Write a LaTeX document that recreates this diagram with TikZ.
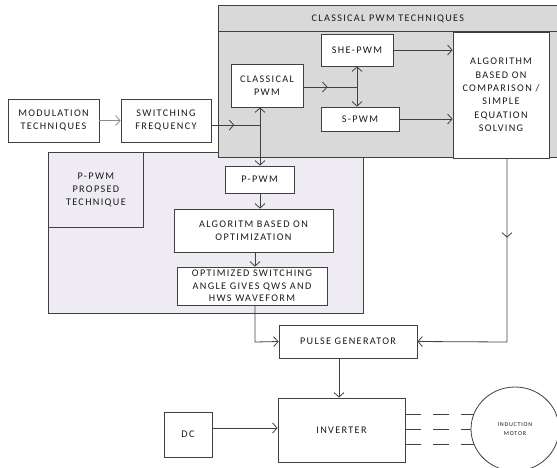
\documentclass[tikz,border=0pt]{standalone}
\usepackage{fontspec}
\setmainfont{Carlito}[LetterSpace=13]
\usetikzlibrary{arrows.meta,decorations.markings,shapes.geometric}
\definecolor{linec}{HTML}{404040}
\definecolor{lightl}{HTML}{8C8C8C}
\definecolor{lav}{HTML}{EEEBF2}
\definecolor{grayf}{HTML}{D9D9D9}
\definecolor{txt}{HTML}{1A1A1A}
\begin{document}
\begin{tikzpicture}[x=1pt,y=-1pt,
  font=\fontsize{10.2}{13.4}\selectfont, text=txt,
  line/.style={draw=linec, line width=0.8pt},
  box/.style={rectangle, draw=linec, line width=0.8pt, fill=white, align=center, inner sep=1pt},
  region/.style={rectangle, draw=linec, line width=0.8pt, anchor=north west, inner sep=0pt},
  tip/.style={-{Straight Barb[length=4.5pt,width=10pt]}},
  midarr/.style={postaction={decorate}, decoration={markings, mark=at position #1 with {\arrow{Straight Barb[length=4.5pt,width=10pt]}}}}
]
\useasboundingbox (0,0) rectangle (557,467);
\clip (0,0) rectangle (557,467);

% P-PWM region
\node[region, fill=lav, minimum width=315, minimum height=161] (preg) at (48,152) {};
\node[region, fill=lav, minimum width=95, minimum height=75, align=center] (ppt) at (48,152) {P-PWM\\PROPSED\\TECHNIQUE};

% Classical region
\node[region, fill=grayf, minimum width=339, minimum height=152] (creg) at (218,5) {};
\node[region, fill=grayf, minimum width=339, minimum height=26] (ctitle) at (218,5) {CLASSICAL PWM TECHNIQUES};

% boxes
\node[box, minimum width=91, minimum height=43] (mod) at (53.5,120.5) {MODULATION\\TECHNIQUES};
\node[box, minimum width=90, minimum height=43] (sw) at (166,120.5) {SWITCHING\\FREQUENCY};
\node[box, minimum width=72, minimum height=43] (cpwm) at (267,85.5) {CLASSICAL\\PWM};
\node[box, minimum width=72, minimum height=32] (she) at (357,50) {SHE-PWM};
\node[box, minimum width=78, minimum height=24] (spwm) at (360,119) {S-PWM};
\node[box, minimum width=96, minimum height=126] (alg) at (501,95) {ALGORITHM\\BASED ON\\COMPARISON /\\SIMPLE\\EQUATION\\SOLVING};
\node[box, minimum width=69, minimum height=27] (ppwm) at (259.5,179.5) {P-PWM};
\node[box, minimum width=159, minimum height=43] (algo) at (253.5,230.5) {ALGORITM BASED ON\\OPTIMIZATION};
\node[box, minimum width=150, minimum height=38, inner sep=0pt, font=\fontsize{10.2}{12.5}\selectfont] (opt) at (252,286) {OPTIMIZED SWITCHING\\ANGLE GIVES QWS AND\\HWS WAVEFORM};
\node[box, minimum width=138, minimum height=33] (pulse) at (348,341.5) {PULSE GENERATOR};
\node[box, minimum width=127, minimum height=64] (inv) at (341.5,430) {INVERTER};
\node[box, minimum width=48, minimum height=45] (dc) at (188,434.5) {DC};
\node[ellipse, draw=linec, line width=0.8pt, fill=white, minimum width=88, minimum height=84, inner sep=0pt, align=center, font=\fontsize{6}{9}\selectfont] (motor) at (515,429) {INDUCTION\\MOTOR};

% junctions
\coordinate (j1) at (260,125);
\coordinate (j2) at (357,87);
\coordinate (rdown) at (507,342);
\coordinate (ldown) at (255,342);

% connectors
\draw[line, draw=lightl, tip] (mod) -- (sw);
\draw[line, midarr=0.47] (sw.east |- j1) -- (j1);
\draw[line, tip] (j1) -- (j1 |- cpwm.south);
\draw[line, tip] (j1) -- (j1 |- ppwm.north);
\draw[line, midarr=0.45] (cpwm.east |- j2) -- (j2);
\draw[line, tip] (j2) -- (she.south -| j2);
\draw[line, tip] (j2) -- (spwm.north -| j2);
\draw[line, tip] (she.east) -- (she.east -| alg.west);
\draw[line, tip] (spwm.east) -- (spwm.east -| alg.west);
\draw[line, tip] (ppwm.south -| j1) -- (algo.north -| j1);
\draw[line, tip] (algo.south -| ldown) -- (opt.north -| ldown);
\draw[line, tip] (opt.south -| ldown) -- (ldown) -- (pulse.west);
\draw[line, tip, midarr=0.29] (alg.south -| rdown) -- (rdown) -- (pulse.east);
\draw[line, tip] (pulse.south -| 339,0) -- (inv.north -| 339,0);
\draw[line, tip] (dc.east |- 0,428) -- (inv.west |- 0,428);
\draw[line, dash pattern=on 16pt off 12pt] (motor.160 -| inv.east) -- (motor.160);
\draw[line, dash pattern=on 16pt off 12pt] (motor.west -| inv.east) -- (motor.west);
\draw[line, dash pattern=on 16pt off 12pt] (motor.200 -| inv.east) -- (motor.200);
\end{tikzpicture}
\end{document}
